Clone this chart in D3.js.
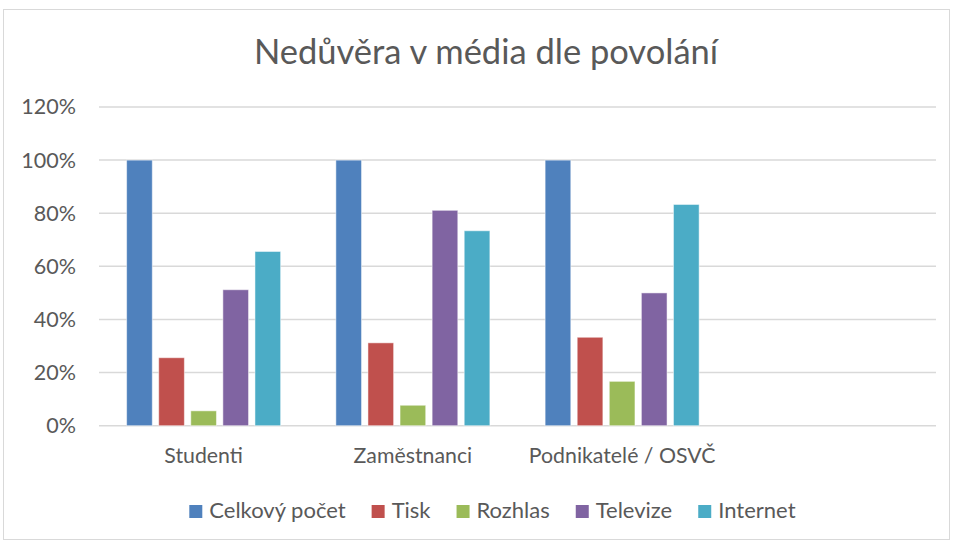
<!DOCTYPE html>
<html>
<head>
<meta charset="utf-8">
<script src="https://cdn.jsdelivr.net/npm/d3@7"></script>
<style>
  body { margin: 0; background: #fff; }
  text { font-family: Lato, 'Open Sans', sans-serif; fill: #595959; }
</style>
</head>
<body>
<div id="chart"></div>
<script>
// Data
var categories = ['Studenti', 'Zaměstnanci', 'Podnikatelé / OSVČ'];
var series = ['Celkový počet', 'Tisk', 'Rozhlas', 'Televize', 'Internet'];
var colors = ['#4f81bd', '#c0504d', '#9bbb59', '#8064a2', '#4bacc6'];
var celkovy = [1.00, 1.00, 1.00];
var tisk = [0.256, 0.312, 0.333];
var rozhlas = [0.056, 0.077, 0.167];
var televize = [0.512, 0.811, 0.50];
var internet = [0.656, 0.734, 0.833];
var yTicks = [0, 0.2, 0.4, 0.6, 0.8, 1.0, 1.2];

var values = [celkovy, tisk, rozhlas, televize, internet];

var svgWidth = 954;
var svgHeight = 543;

var svg = d3.select('#chart')
    .append('svg')
    .attr('width', svgWidth)
    .attr('height', svgHeight);

// chart border
svg.append('rect')
    .attr('x', 3.5)
    .attr('y', 9.5)
    .attr('width', 946)
    .attr('height', 530)
    .attr('fill', 'none')
    .attr('stroke', '#d9d9d9')
    .attr('stroke-width', 1);

var margin = { top: 107, left: 99, right: 18, bottom: 117 };
var chartWidth = svgWidth - margin.left - margin.right;
var chartHeight = 425.7 - margin.top;

var chartGroup = svg.append('g')
    .attr('transform', `translate(${margin.left}, ${margin.top})`);

// Scales (an empty 4th slot like in the original)
var x0 = d3.scaleBand()
    .domain(categories.concat(['']))
    .range([0, chartWidth])
    .padding(0);

var groupPad = x0.bandwidth() * 0.132;
var x1 = d3.scaleBand()
    .domain(series)
    .range([groupPad, x0.bandwidth() - groupPad])
    .paddingInner(0.2)
    .paddingOuter(0);

var y = d3.scaleLinear()
    .domain([0, 1.2])
    .range([chartHeight, 0]);

// Gridlines
chartGroup.append('g')
    .selectAll('line')
    .data(yTicks)
    .enter()
    .append('line')
    .attr('x1', 0)
    .attr('x2', chartWidth)
    .attr('y1', (d) => y(d))
    .attr('y2', (d) => y(d))
    .attr('stroke', '#d9d9d9')
    .attr('stroke-width', 1.5);

// Y axis labels
var leftAxis = d3.axisLeft(y)
    .tickValues(yTicks)
    .tickFormat(d3.format('.0%'))
    .tickSize(0)
    .tickPadding(23);

var yAxis = chartGroup.append('g').call(leftAxis);
yAxis.select('.domain').remove();
yAxis.selectAll('text')
    .style('font-size', '21.5px')
    .attr('fill', '#595959');

// X axis labels
var bottomAxis = d3.axisBottom(x0).tickSize(0).tickPadding(22);
var xAxis = chartGroup.append('g')
    .attr('transform', `translate(0, ${chartHeight})`)
    .call(bottomAxis);
xAxis.select('.domain').remove();
xAxis.selectAll('text')
    .style('font-size', '21.3px')
    .attr('fill', '#595959');

// Bars
var groups = chartGroup.selectAll('.group')
    .data(categories)
    .enter()
    .append('g')
    .attr('class', 'group')
    .attr('transform', (d) => `translate(${x0(d)}, 0)`);

groups.selectAll('rect')
    .data((d, i) => series.map((s, j) => ({ s: s, v: values[j][i], c: colors[j] })))
    .enter()
    .append('rect')
    .attr('x', (d) => x1(d.s))
    .attr('y', (d) => y(d.v))
    .attr('width', x1.bandwidth())
    .attr('height', (d) => chartHeight - y(d.v))
    .attr('fill', (d) => d.c)
    .attr('stroke', 'rgba(255,255,255,0.5)')
    .attr('stroke-width', 1);

// Title
svg.append('text')
    .attr('x', 486)
    .attr('y', 64)
    .attr('text-anchor', 'middle')
    .style('font-size', '34.5px')
    .text('Nedůvěra v média dle povolání');

// Legend
var legendGroup = svg.append('g');
var lx = 0;
series.forEach((s, i) => {
    var item = legendGroup.append('g').attr('transform', `translate(${lx}, 0)`);
    item.append('rect')
        .attr('x', 0)
        .attr('y', -13)
        .attr('width', 13)
        .attr('height', 13)
        .attr('fill', colors[i]);
    var t = item.append('text')
        .attr('x', 20)
        .attr('y', 0)
        .style('font-size', '22px')
        .text(s);
    lx += 20 + t.node().getComputedTextLength() + 26;
});
legendGroup.attr('transform', `translate(189.3, 518)`);
</script>
</body>
</html>
